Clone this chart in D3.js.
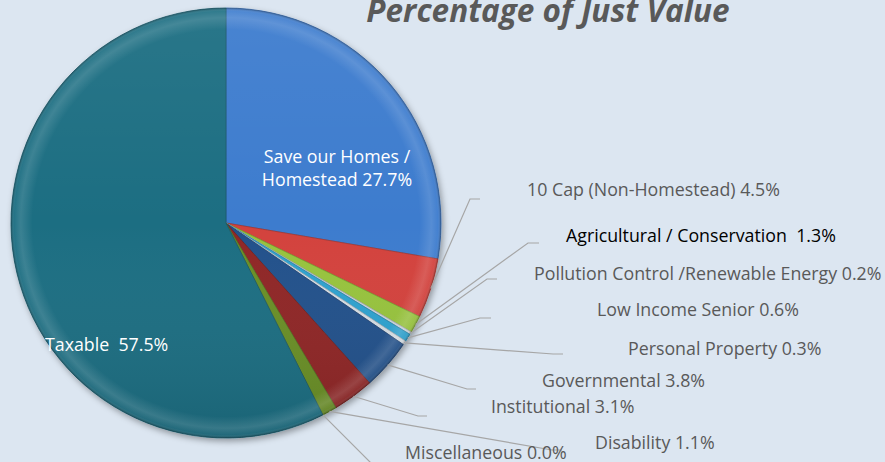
<!DOCTYPE html>
<html>
<head>
<meta charset="utf-8">
<script src="https://cdn.jsdelivr.net/npm/d3@7"></script>
<style>
  html, body { margin: 0; padding: 0; background: #dce6f1; }
  svg { display: block; font-family: "Open Sans", sans-serif; }
</style>
</head>
<body>
<svg id="chart" width="885" height="462"></svg>
<script>
// slice data, clockwise from 12 o'clock
const categories = [
  "Save our Homes / Homestead", "10 Cap (Non-Homestead)", "Agricultural / Conservation",
  "Pollution Control /Renewable Energy", "Low Income Senior", "Personal Property",
  "Governmental", "Institutional", "Disability", "Miscellaneous", "Taxable"
];
const values = [27.7, 4.5, 1.3, 0.2, 0.6, 0.3, 3.8, 3.1, 1.1, 0.0, 57.5];
const labelTexts = [
  "Save our Homes / Homestead 27.7%", "10 Cap (Non-Homestead) 4.5%", "Agricultural / Conservation  1.3%",
  "Pollution Control /Renewable Energy 0.2%", "Low Income Senior 0.6%", "Personal Property 0.3%",
  "Governmental 3.8%", "Institutional 3.1%", "Disability 1.1%", "Miscellaneous 0.0%", "Taxable  57.5%"
];
const colors = [
  "#3e7cce", "#d3433c", "#97c33c", "#c9d3da", "#2fa2cf", "#d5dde3",
  "#24518b", "#8f2826", "#6a8f27", "#6a8f27", "#1e6e82"
];

// label layout for the outside labels: elbow of the leader, end of the leader, text anchor
const outside = {
  "10 Cap (Non-Homestead)":              { elbow: [470, 199], end: [480, 199], text: [527, 190] },
  "Agricultural / Conservation":         { elbow: [528, 243], end: [539, 243], text: [566, 236], dark: true },
  "Pollution Control /Renewable Energy": { elbow: [487, 279], end: [497, 279], text: [534, 274] },
  "Low Income Senior":                   { elbow: [480, 318], end: [491, 318], text: [597, 310] },
  "Personal Property":                   { elbow: [553, 354], end: [563, 354], text: [628, 349] },
  "Governmental":                        { elbow: [467, 389], end: [476, 389], text: [542, 381] },
  "Institutional":                       { elbow: [418, 416], end: [427, 416], text: [491, 407] },
  "Disability":                          { elbow: [552, 450], end: [562, 450], text: [595, 443] },
  "Miscellaneous":                       { elbow: [372, 464], end: [380, 464], text: [405, 453] }
};

const width = 885, height = 462;
const cx = 226, cy = 223, radius = 215;
const fontSize = 17.8;

const svg = d3.select("#chart");
const defs = svg.append("defs");

const shadow = defs.append("filter").attr("id", "shadow")
  .attr("x", "-10%").attr("y", "-10%").attr("width", "130%").attr("height", "130%");
shadow.append("feDropShadow")
  .attr("dx", 2).attr("dy", 3).attr("stdDeviation", 3)
  .attr("flood-color", "#000").attr("flood-opacity", 0.35);

// rim highlight for the bevel look
const rim = defs.append("radialGradient").attr("id", "rim")
  .attr("gradientUnits", "userSpaceOnUse")
  .attr("cx", 0).attr("cy", 0).attr("r", radius);
rim.append("stop").attr("offset", "0.9").attr("stop-color", "#fff").attr("stop-opacity", 0);
rim.append("stop").attr("offset", "0.955").attr("stop-color", "#fff").attr("stop-opacity", 0.13);
rim.append("stop").attr("offset", "0.985").attr("stop-color", "#fff").attr("stop-opacity", 0.04);
rim.append("stop").attr("offset", "1").attr("stop-color", "#000").attr("stop-opacity", 0.25);

// light from the top, slightly darker at the bottom
const shade = defs.append("linearGradient").attr("id", "shade")
  .attr("gradientUnits", "userSpaceOnUse")
  .attr("x1", 0).attr("y1", -radius).attr("x2", 0).attr("y2", radius);
shade.append("stop").attr("offset", "0").attr("stop-color", "#fff").attr("stop-opacity", 0.06);
shade.append("stop").attr("offset", "0.5").attr("stop-color", "#fff").attr("stop-opacity", 0);
shade.append("stop").attr("offset", "1").attr("stop-color", "#000").attr("stop-opacity", 0.1);

const data = categories.map((c, i) => ({ name: c, value: values[i], label: labelTexts[i], color: colors[i] }));

const pie = d3.pie().sort(null).value(d => d.value);
const arcs = pie(data);
const arc = d3.arc().innerRadius(0).outerRadius(radius);

const gPie = svg.append("g")
  .attr("transform", `translate(${cx},${cy})`);

const slices = gPie.append("g").attr("filter", "url(#shadow)");
slices.selectAll("path")
  .data(arcs.filter(d => d.data.value > 0))
  .join("path")
  .attr("d", arc)
  .attr("fill", d => d.data.color)
  .attr("stroke", d => d3.color(d.data.color).darker(0.6))
  .attr("stroke-width", 0.8)
  .attr("stroke-linejoin", "round");

["url(#shade)", "url(#rim)"].forEach(f => {
  gPie.append("g").selectAll("path")
    .data(arcs.filter(d => d.data.value > 0))
    .join("path")
    .attr("d", arc)
    .attr("fill", f)
    .attr("pointer-events", "none");
});

// Title (cut at the top edge, as in the original)
svg.append("text")
  .attr("x", 548).attr("y", 22)
  .attr("text-anchor", "middle")
  .attr("font-size", 31.5)
  .attr("font-weight", "bold")
  .attr("font-style", "italic")
  .attr("fill", "#595959")
  .text("Percentage of Just Value");

// inside labels
const saveArc = arcs[0];
const saveText = svg.append("text")
  .attr("x", 337).attr("y", 163)
  .attr("text-anchor", "middle")
  .attr("font-size", fontSize)
  .attr("fill", "#fff");
saveText.append("tspan").attr("x", 337).text("Save our Homes /");
saveText.append("tspan").attr("x", 337).attr("dy", 23).text("Homestead " + d3.format(".1f")(saveArc.data.value) + "%");

svg.append("text")
  .attr("x", 45).attr("y", 351)
  .attr("font-size", fontSize)
  .attr("fill", "#fff")
  .style("white-space", "pre")
  .text(arcs[10].data.label);

// outside labels with leaders
const lineGen = d3.line();
const gLabels = svg.append("g");
arcs.forEach(d => {
  const o = outside[d.data.name];
  if (!o) return;
  const mid = (d.startAngle + d.endAngle) / 2;
  const start = [cx + radius * Math.sin(mid), cy - radius * Math.cos(mid)];
  gLabels.append("path")
    .attr("d", lineGen([start, o.elbow, o.end]))
    .attr("fill", "none")
    .attr("stroke", "#a6a6a6")
    .attr("stroke-width", 1.2);
  gLabels.append("text")
    .attr("x", o.text[0]).attr("y", o.text[1])
    .attr("dy", "0.35em")
    .attr("font-size", fontSize)
    .attr("fill", o.dark ? "#000" : "#595959")
    .style("white-space", "pre")
    .text(d.data.label);
});
</script>
</body>
</html>
